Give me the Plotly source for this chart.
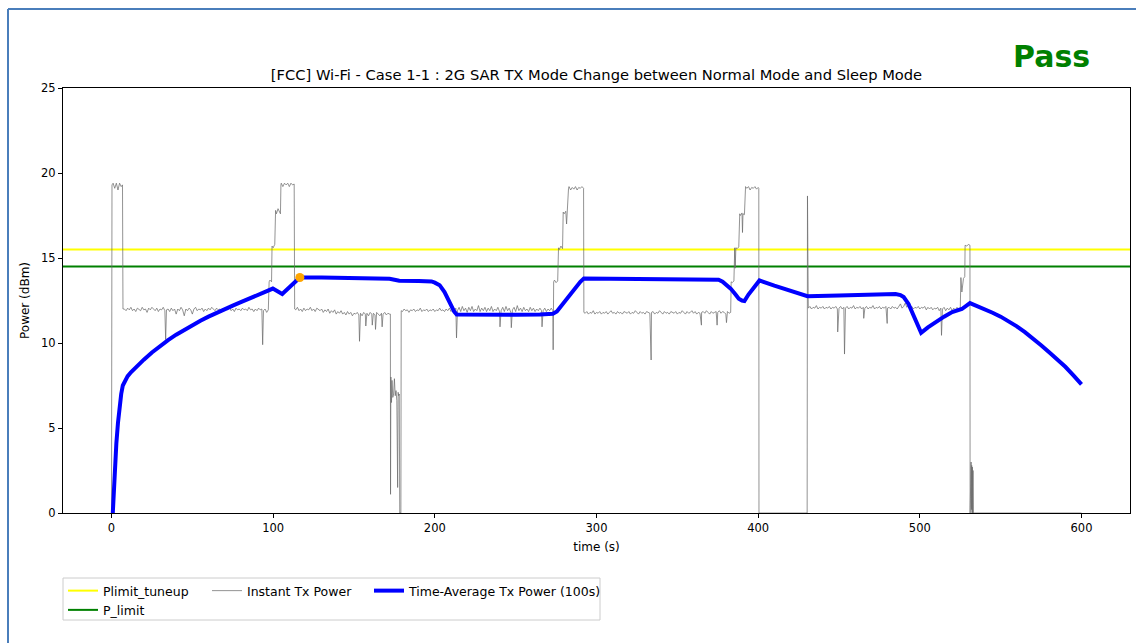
import plotly.graph_objects as go

# ---------------- data ----------------
title_text = "[FCC] Wi-Fi - Case 1-1 : 2G SAR TX Mode Change between Normal Mode and Sleep Mode"
verdict = "Pass"
plimit_tuneup = 15.5
p_limit = 14.5
x_range = [-30, 630]
y_range = [0, 25]
x_ticks = [0, 100, 200, 300, 400, 500, 600]
y_ticks = [0, 5, 10, 15, 20, 25]

inst_t = [
    0, 0.3, 1, 2, 3, 4, 5, 6, 6.8, 7.1,
    8, 9, 10, 11, 12, 13, 14, 15, 16, 17, 18, 19, 20, 21, 22, 23, 24, 25, 26, 27, 28, 29, 30, 31, 32, 33, 33.5, 34,
    35, 36, 37, 38, 39, 40, 41, 42, 43, 44, 45, 46, 47, 48, 49, 50, 51, 52, 53, 54, 55, 56, 57, 58, 59, 60,
    61, 62, 63, 64, 65, 66, 67, 68, 69, 70, 71, 72, 73, 74, 75, 76, 77, 78, 79, 80, 81, 82, 83, 84, 85, 86,
    87, 88, 89, 90, 91, 92, 93, 93.5, 94, 95, 96, 97,
    97.5, 98, 99, 99.3, 100, 101, 101.5, 102, 103, 104, 104.5, 104.8, 105, 106, 107, 108, 109, 110, 111, 112, 113, 113.3,
    114, 115, 116, 117, 118, 119, 120, 121, 122, 123, 124, 125, 126, 127, 128, 129, 130, 131, 132, 133, 134, 135,
    136, 137, 138, 139, 140, 141, 142, 143, 144, 145, 146, 147, 148, 149, 150, 151, 152, 153, 153.4, 154, 155, 156,
    157, 157.3, 158, 159, 160, 161, 161.3, 162, 163, 163.3, 164, 165, 166, 167, 167.4, 168, 169, 170, 171, 172, 172.5,
    172.6, 172.8, 173.2, 173.5, 174, 174.5, 175, 175.5, 176, 176.5, 177, 177.3, 177.6, 178, 178.3, 179, 179.2,
    180, 181, 182, 183, 184, 185, 186, 187, 188, 189, 190, 191, 192, 193, 194, 195, 196, 197, 198, 199, 200,
    201, 202, 203, 204, 205, 206, 207, 208, 209, 210, 211, 212, 213, 213.4, 214, 215, 216, 217, 218, 219, 220,
    221, 222, 223, 224, 225, 226, 227, 228, 229, 230, 231, 232, 233, 234, 235, 236, 237, 238, 239, 240, 240.3,
    241, 242, 243, 244, 245, 246, 247, 247.3, 248, 249, 250, 251, 252, 253, 254, 255, 256, 257, 258, 259, 260,
    261, 262, 263, 264, 265, 266, 266.3, 267, 268, 269, 270, 271, 272, 273, 273.2,
    273.5, 274, 275, 276, 276.5, 277, 278, 279, 279.4, 280, 281, 281.5, 281.8, 282.7, 283, 284, 285, 286, 287,
    288, 289, 290, 291, 292, 292.2,
    293, 294, 295, 296, 297, 298, 299, 300, 301, 302, 303, 304, 305, 306, 307, 308, 309, 310, 311, 312, 313,
    314, 315, 316, 317, 318, 319, 320, 321, 322, 323, 324, 325, 326, 327, 328, 329, 330, 331, 332, 333, 333.8,
    334, 335, 336, 337, 338, 339, 340, 341, 342, 343, 344, 345, 346, 347, 348, 349, 350, 351, 352, 353, 354,
    355, 356, 357, 358, 359, 360, 361, 362, 363, 364, 364.9, 365, 366, 367, 368, 369, 370, 371, 372, 373, 374,
    374.6, 375, 376, 377, 378, 379, 380, 380.4, 381, 382, 383, 383.3,
    384, 385, 385.5, 385.8, 386.2, 387, 388, 388.6, 389, 390, 390.3, 390.6, 391.5, 392.2, 393, 394, 395, 396,
    397, 398, 399, 400, 400.4, 400.5, 430.3, 430.5, 430.7,
    431, 432, 433, 434, 435, 436, 437, 438, 439, 440, 441, 442, 443, 444, 445, 446, 447, 448, 449, 449.2, 450,
    451, 452, 453, 453.4, 454, 455, 456, 457, 458, 459, 460, 461, 462, 463, 464, 465, 465.3, 466, 467, 468, 469,
    470, 471, 472, 473, 474, 475, 476, 477, 478, 479, 479.8, 480, 481, 482, 483, 484, 485, 486, 487, 488, 489,
    490, 491, 492, 493, 494, 495, 496, 497, 498, 499, 500, 501, 502, 503, 504, 505, 506, 507, 508, 509, 510,
    511, 512, 513, 513.4, 514, 515, 516, 517, 518, 519, 520, 521, 522, 523, 524, 525,
    525.4, 526, 527, 527.8, 528, 529, 530, 531, 531.1, 531.3, 531.5, 531.7, 531.9, 532.1, 532.3, 532.5, 532.7,
    532.9, 533.1, 600,
]
inst_p = [
    0, 19.3, 19.4, 19.1, 19.4, 19.0, 19.4, 19.2, 19.3, 12.0,
    12.0, 11.9, 12.05, 11.95, 12.1, 11.9, 12.0, 11.85, 12.05, 12.0, 11.9, 12.1, 11.95, 12.0, 11.8, 12.05, 11.95, 12.1, 12.0, 11.9, 12.05, 11.85, 12.0, 11.95, 12.1, 11.9, 10.2, 11.95,
    12.0, 11.85, 12.05, 11.9, 12.0, 11.7, 12.0, 11.9, 12.1, 11.95, 11.6, 12.0, 11.9, 12.05, 11.95, 11.7, 12.0, 12.1, 11.9, 12.0, 11.95, 12.05, 11.85, 12.0, 11.9, 12.05,
    11.95, 12.1, 12.0, 11.9, 12.05, 11.95, 12.0, 11.8, 12.05, 11.9, 12.0, 11.95, 12.1, 11.9, 12.0, 11.85, 12.05, 11.95, 12.0, 11.9, 12.05, 11.95, 12.0, 11.9, 12.1, 11.95,
    12.0, 11.85, 12.0, 11.9, 12.05, 11.95, 12.0, 9.9, 11.9, 12.0, 11.8, 11.95,
    13.6, 13.7, 13.6, 15.7, 15.6, 15.8, 17.8, 17.6, 17.9, 17.7, 17.6, 19.3, 19.4, 19.2, 19.4, 19.3, 19.4, 19.2, 19.4, 19.3, 19.35, 12.0,
    11.95, 12.1, 11.9, 12.0, 11.85, 12.05, 11.9, 12.0, 11.95, 12.1, 11.9, 12.0, 11.85, 12.05, 11.95, 11.9, 12.0, 11.8, 11.95, 11.85, 12.0, 11.75,
    11.9, 11.8, 11.95, 11.7, 11.85, 11.75, 11.9, 11.7, 11.8, 11.65, 11.85, 11.7, 11.8, 11.6, 11.75, 11.7, 11.8, 11.65, 10.1, 11.75, 11.6, 11.8,
    11.7, 11.0, 11.75, 11.6, 11.8, 11.7, 11.05, 11.75, 11.65, 10.8, 11.8, 11.7, 11.6, 11.75, 10.95, 11.7, 11.8, 11.65, 11.75, 11.7, 11.7,
    1.1, 8.0, 6.5, 7.8, 6.8, 7.0, 7.9, 6.9, 7.2, 6.6, 1.5, 7.1, 6.9, 7.0, 0, 0, 11.9,
    11.85, 12.0, 11.9, 11.95, 11.8, 11.95, 11.9, 12.0, 11.85, 11.95, 11.9, 12.05, 11.85, 11.95, 11.9, 12.0, 11.85, 11.95, 11.9, 12.0, 11.85,
    11.95, 11.9, 12.05, 11.9, 11.95, 11.85, 12.0, 11.9, 12.05, 11.85, 11.95, 11.9, 12.05, 10.3, 11.9, 12.1, 11.85, 12.15, 11.9, 12.05, 11.8,
    12.1, 11.9, 12.15, 11.85, 12.0, 11.9, 12.2, 11.85, 12.05, 11.9, 12.1, 11.85, 12.05, 11.9, 12.15, 11.85, 12.0, 11.9, 12.1, 11.85, 10.95,
    11.9, 12.1, 11.85, 12.15, 11.9, 12.05, 11.8, 10.9, 11.95, 12.1, 11.85, 12.2, 11.9, 12.05, 11.85, 12.1, 11.9, 12.0, 11.85, 12.1, 11.9,
    12.05, 11.85, 12.0, 11.9, 12.05, 11.9, 10.95, 11.9, 12.05, 11.85, 12.0, 11.9, 12.05, 11.9, 9.6,
    13.6, 13.7, 13.55, 13.65, 15.6, 15.5, 15.7, 15.55, 17.7, 17.6, 17.75, 17.0, 17.7, 19.1, 19.2, 19.0, 19.15, 19.05, 19.2,
    19.0, 19.15, 19.1, 19.2, 19.1, 11.8,
    11.75, 11.85, 11.7, 11.8, 11.75, 11.9, 11.7, 11.8, 11.75, 11.85, 11.7, 11.8, 11.75, 11.85, 11.7, 11.8, 11.9, 11.75, 11.8, 11.7, 11.85,
    11.75, 11.8, 11.7, 11.85, 11.8, 11.75, 11.85, 11.7, 11.8, 11.75, 11.9, 11.8, 11.7, 11.85, 11.75, 11.8, 11.7, 11.85, 11.8, 11.75, 9.0,
    11.8, 11.85, 11.7, 11.8, 11.75, 11.9, 11.8, 11.7, 11.85, 11.75, 11.8, 11.7, 11.85, 11.8, 11.75, 11.85, 11.7, 11.8, 11.75, 11.9, 11.8,
    11.7, 11.85, 11.75, 11.8, 11.9, 11.75, 11.85, 11.7, 11.8, 11.75, 11.05, 11.8, 11.85, 11.75, 11.9, 11.8, 11.7, 11.85, 11.75, 11.8, 11.85,
    11.05, 11.8, 11.9, 11.75, 11.85, 11.8, 11.7, 11.2, 11.85, 11.75, 11.8, 13.6,
    13.55, 13.65, 15.6, 14.4, 15.6, 15.55, 15.65, 17.6, 17.5, 17.65, 16.5, 17.6, 17.55, 19.2, 19.1, 19.2, 19.0, 19.15,
    19.1, 19.2, 19.05, 19.15, 19.1, 0, 0, 18.65, 12.1,
    12.05, 12.15, 12.0, 12.1, 12.05, 12.2, 12.0, 12.1, 12.05, 12.15, 12.0, 12.1, 12.05, 12.15, 12.0, 12.1, 12.05, 12.15, 12.0, 10.65, 12.05,
    12.15, 12.0, 12.1, 9.35, 12.05, 12.15, 12.0, 12.1, 12.05, 12.2, 12.0, 12.1, 12.05, 12.15, 12.0, 12.1, 11.45, 12.05, 12.15, 12.0, 12.1,
    12.05, 12.2, 12.0, 12.1, 12.05, 12.15, 12.0, 12.1, 12.05, 12.15, 11.15, 12.05, 12.1, 12.0, 12.15, 12.05, 12.1, 12.0, 12.15, 12.3, 12.05,
    12.15, 12.35, 12.1, 12.2, 12.05, 12.15, 12.0, 12.1, 12.05, 12.15, 12.0, 12.1, 12.05, 12.15, 11.95, 12.1, 12.0, 12.1, 11.95, 12.05, 12.0,
    12.1, 11.9, 12.05, 10.45, 12.0, 12.1, 11.9, 12.05, 11.95, 12.1, 11.9, 12.05, 11.95, 12.1, 11.9, 12.0,
    13.85, 13.0, 13.8, 13.9, 15.75, 15.7, 15.8, 15.75, 0, 2.9, 0, 3.0, 0.2, 2.8, 0, 2.7, 0,
    2.5, 0, 0,
]

avg_t = [
    0.8, 1.5, 2, 3, 4, 5, 6, 7, 8, 10, 12, 15, 17.5, 20, 25, 30, 35, 40, 45, 50, 55, 60, 65, 70, 75, 80, 85, 90, 95, 99.8,
    105.6, 110, 116.5, 130, 150, 165, 172, 175, 178, 190, 198, 200, 203, 206, 208, 210, 212, 213.5,
    230, 250, 265, 273, 275.5, 277.5, 280, 284, 288, 290, 292.2, 320, 350, 375.5, 378, 381, 383,
    386, 388, 390, 391.5, 394, 397, 400.8, 410, 420, 430.5, 450, 470, 485, 488, 490, 493, 496.3,
    498.5, 500.8, 505, 510, 515, 520, 526, 531, 535, 540, 545, 550, 555, 560, 565, 570, 575, 580, 585, 590, 595, 600,
]
avg_p = [
    0, 1.6, 2.6, 4.1, 5.3, 6.3, 7.0, 7.5, 7.72, 8.05, 8.28, 8.57, 8.8, 9.02, 9.44, 9.82, 10.17, 10.49, 10.78, 11.05,
    11.31, 11.55, 11.78, 11.99, 12.2, 12.4, 12.6, 12.79, 12.98, 13.2,
    12.88, 13.25, 13.85, 13.86, 13.84, 13.8, 13.78, 13.72, 13.66, 13.64, 13.62, 13.55, 13.4, 13.0, 12.6, 12.2, 11.85, 11.68,
    11.65, 11.66, 11.68, 11.72, 11.85, 12.1, 12.4, 12.85, 13.35, 13.6, 13.8, 13.79, 13.76, 13.72, 13.6, 13.35, 13.2,
    12.85, 12.6, 12.5, 12.47, 12.85, 13.25, 13.68, 13.37, 13.06, 12.75, 12.8, 12.84, 12.88, 12.82, 12.7, 12.3, 11.55,
    11.1, 10.6, 10.92, 11.25, 11.55, 11.82, 12.0, 12.35, 12.2, 12.0, 11.78, 11.55, 11.28, 10.98, 10.64, 10.27, 9.87,
    9.45, 9.03, 8.6, 8.1, 7.57,
]

peak_t = [116.5]
peak_p = [13.85]

# ---------------- layout geometry (pixels) ----------------
W, H = 1136, 643
L, R, T, B = 63, 6, 88, 130
PW, PH = W - L - R, H - T - B


def px(x):
    return (x - L) / PW


def py(y):
    return (H - B - y) / PH


FONT = "DejaVu Sans"

fig = go.Figure()
fig.add_trace(go.Scatter(x=x_range, y=[plimit_tuneup] * 2, mode="lines", name="Plimit_tuneup",
                         line=dict(color="#ffff00", width=2), legend="legend"))
fig.add_trace(go.Scatter(x=x_range, y=[p_limit] * 2, mode="lines", name="P_limit",
                         line=dict(color="#008000", width=2), legend="legend"))
fig.add_trace(go.Scatter(x=inst_t, y=inst_p, mode="lines", name="Instant Tx Power",
                         line=dict(color="rgba(105,105,105,0.72)", width=1), legend="legend2"))
fig.add_trace(go.Scatter(x=avg_t, y=avg_p, mode="lines", name="Time-Average Tx Power (100s)",
                         line=dict(color="#0000ff", width=4), legend="legend3"))
fig.add_trace(go.Scatter(x=peak_t, y=peak_p, mode="markers", showlegend=False,
                         marker=dict(color="#ffa500", size=9)))

leg_common = dict(bgcolor="rgba(0,0,0,0)", borderwidth=0, font=dict(family=FONT, size=12.5, color="#000"),
                  xanchor="left", yanchor="top", tracegroupgap=0)
fig.update_layout(
    width=W, height=H,
    margin=dict(l=L, r=R, t=T, b=B),
    paper_bgcolor="white", plot_bgcolor="white",
    font=dict(family=FONT, color="#000"),
    title=dict(text=title_text, x=0.5, xref="paper", xanchor="center",
               y=1 - 75 / H, yref="container", yanchor="middle",
               font=dict(family=FONT, size=14.7, color="#000")),
    xaxis=dict(range=x_range, tickvals=x_ticks, ticks="outside", ticklen=4, tickcolor="#000",
               showline=True, linecolor="#000", linewidth=1, mirror=True, showgrid=False, zeroline=False,
               tickfont=dict(family=FONT, size=11.5, color="#000"),
               title=dict(text="time (s)", font=dict(family=FONT, size=12, color="#000"), standoff=8)),
    yaxis=dict(range=y_range, tickvals=y_ticks, ticks="outside", ticklen=4, tickcolor="#000",
               showline=True, linecolor="#000", linewidth=1, mirror=True, showgrid=False, zeroline=False,
               tickfont=dict(family=FONT, size=11.5, color="#000"),
               title=dict(text="Power (dBm)", font=dict(family=FONT, size=12, color="#000"), standoff=8)),
    legend=dict(x=px(63), y=py(576), **leg_common),
    legend2=dict(x=px(207), y=py(576), **leg_common),
    legend3=dict(x=px(369), y=py(576), **leg_common),
    showlegend=True,
)

# legend frame
fig.add_shape(type="rect", xref="paper", yref="paper", x0=px(63), x1=px(600), y0=py(620), y1=py(578),
              line=dict(color="#cccccc", width=1), fillcolor="rgba(0,0,0,0)", layer="above")
# outer blue frame (left and top edges)
fig.add_shape(type="line", xref="paper", yref="paper", x0=px(8), x1=px(8), y0=py(9), y1=py(H + 5),
              line=dict(color="#4a7ebb", width=2))
fig.add_shape(type="line", xref="paper", yref="paper", x0=px(8), x1=px(W + 5), y0=py(9), y1=py(9),
              line=dict(color="#4a7ebb", width=2))

fig.add_annotation(text="<b>" + verdict + "</b>", xref="paper", yref="paper", x=px(1051), y=py(57),
                   xanchor="center", yanchor="middle", showarrow=False,
                   font=dict(family=FONT, size=30, color="#008000"))

fig.write_html("out.html", config={"displayModeBar": False},
               post_script="document.body.style.margin='0';")
